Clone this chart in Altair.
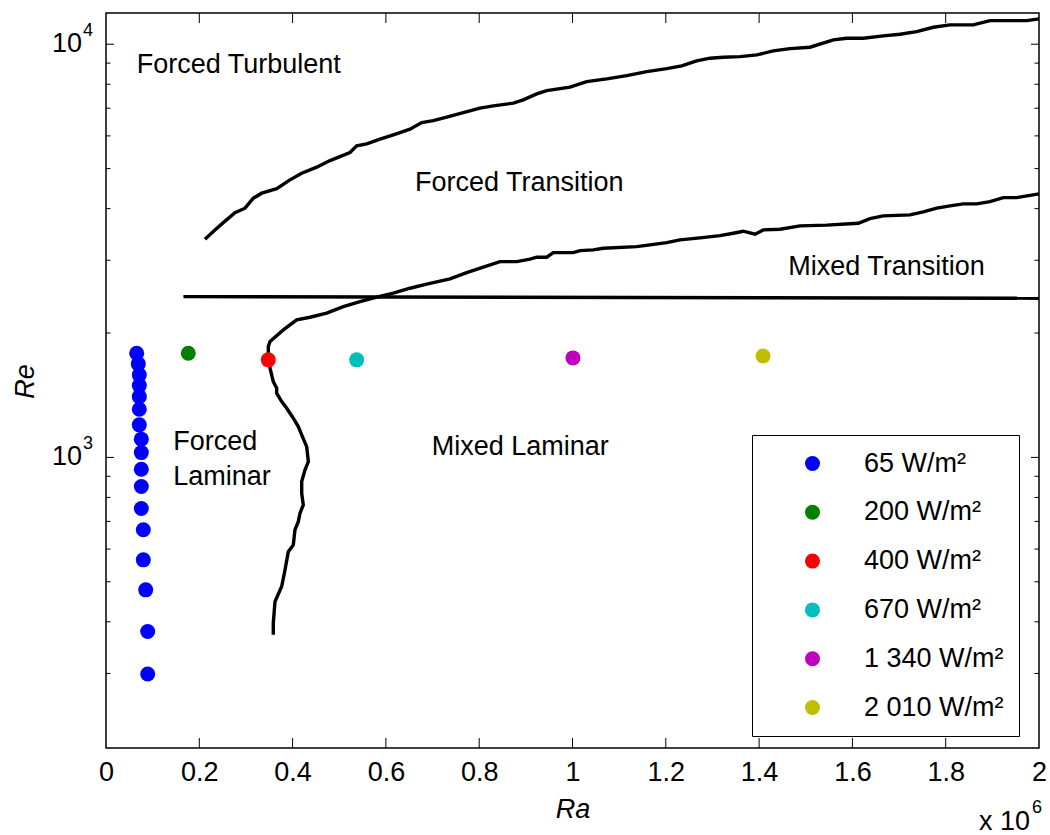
import altair as alt
import pandas as pd

FONT = "Liberation Sans"
W, H = 933, 735

# Ra is given in units of 10^6
# 65 W/m2 series
low_flux_ra = [0.0658, 0.0692, 0.0714, 0.0714, 0.0714, 0.0714, 0.0714, 0.0757, 0.0757,
               0.0757, 0.0757, 0.0757, 0.0800, 0.0800, 0.0851, 0.0894, 0.0894]
low_flux_re = [1787, 1684, 1584, 1492, 1403, 1308, 1199, 1107, 1027,
               936, 850, 752, 668, 565, 478, 379, 299]

flux_labels = ["65 W/m²", "200 W/m²", "400 W/m²", "670 W/m²", "1 340 W/m²", "2 010 W/m²"]
flux_colors = ["#0000FF", "#008000", "#FF0000", "#00BFBF", "#BF00BF", "#BFBF00"]

# one point for each of the higher heat fluxes
high_flux_ra = [0.1764, 0.3479, 0.5374, 1.001, 1.4084]
high_flux_re = [1787, 1722, 1722, 1741, 1760]

# forced turbulent / forced transition boundary
turb_ra = [0.2122, 0.2300, 0.2514, 0.2765, 0.2980, 0.3158, 0.3338, 0.3659, 0.3944, 0.4195,
           0.4517, 0.4802, 0.5230, 0.5374, 0.5588, 0.5874, 0.6159, 0.6517, 0.6767, 0.7016,
           0.7303, 0.7659, 0.8017, 0.8302, 0.8731, 0.8945, 0.9233, 0.9447, 0.9946, 1.0304,
           1.0733, 1.1162, 1.1591, 1.2019, 1.2341, 1.2662, 1.2948, 1.3233, 1.3591, 1.3949,
           1.4304, 1.4662, 1.5091, 1.5591, 1.5878, 1.6234, 1.6662, 1.7020, 1.7378, 1.7734,
           1.8092, 1.8592, 1.8950, 1.9235, 1.9736, 2.0]
turb_re = [3374, 3520, 3700, 3912, 4010, 4240, 4360, 4473, 4695, 4873,
           5039, 5228, 5467, 5675, 5739, 5891, 6034, 6229, 6462, 6534,
           6659, 6833, 7002, 7092, 7199, 7333, 7582, 7723, 7870, 8120,
           8241, 8395, 8584, 8730, 8862, 9112, 9251, 9302, 9333, 9422,
           9634, 9759, 9834, 10242, 10340, 10340, 10474, 10573, 10727, 10992,
           11135, 11135, 11405, 11405, 11405, 11514]

# forced laminar / mixed boundary, continuing into the mixed transition boundary
mixed_ra = [0.3586, 0.3586, 0.3623, 0.3766, 0.3837, 0.3908, 0.4015, 0.4051, 0.4122, 0.4159,
            0.4229, 0.4195, 0.4195, 0.4266, 0.4337, 0.4302, 0.4195, 0.4122, 0.4015, 0.3874,
            0.3766, 0.3659, 0.3659, 0.3586, 0.3516, 0.3479, 0.3479, 0.3516, 0.3801, 0.4088,
            0.4373, 0.4731, 0.5087, 0.5445, 0.5803, 0.6159, 0.6517, 0.6875, 0.7374, 0.7732,
            0.8088, 0.8446, 0.8804, 0.9089, 0.9233, 0.9447, 0.9588, 1.0017, 1.0161, 1.0446,
            1.0660, 1.1376, 1.1661, 1.2019, 1.2304, 1.2733, 1.3162, 1.3447, 1.3661, 1.3912,
            1.4090, 1.4448, 1.4877, 1.5449, 1.6127, 1.6377, 1.6662, 1.7235, 1.7520, 1.7807,
            1.8092, 1.8377, 1.8665, 1.8950, 1.9235, 1.9522, 2.0]
mixed_re = [372, 397, 448, 487, 534, 591, 614, 668, 699, 733,
            767, 819, 874, 933, 977, 1062, 1134, 1187, 1244, 1315,
            1365, 1430, 1471, 1526, 1644, 1738, 1854, 1907, 2035, 2151,
            2184, 2234, 2317, 2383, 2442, 2497, 2567, 2625, 2704, 2800,
            2886, 2978, 2978, 3018, 3051, 3051, 3130, 3130, 3166, 3178,
            3208, 3237, 3268, 3310, 3360, 3398, 3442, 3488, 3527, 3469,
            3553, 3567, 3633, 3648, 3688, 3784, 3842, 3863, 3928, 4010,
            4062, 4107, 4107, 4160, 4253, 4253, 4342]

# mixed laminar / mixed transition limit
limit_ra = [0.166, 2.0]
limit_re = [2450, 2428]

# flow regime names
zone_text = ["Forced Turbulent", "Forced Transition", "Mixed Transition",
             "Forced", "Laminar", "Mixed Laminar"]
zone_ra = [0.0658, 0.6624, 1.4626, 0.1443, 0.1443, 0.6982]
zone_re = [8538, 4423, 2765, 1043, 858, 1014]

x_tick_values = [0, 0.2, 0.4, 0.6, 0.8, 1, 1.2, 1.4, 1.6, 1.8, 2]
y_major = [1000, 10000]
y_major_exp = ["3", "4"]
y_minor = [300, 400, 500, 600, 700, 800, 900, 2000, 3000, 4000, 5000, 6000, 7000, 8000, 9000]

x_scale = alt.Scale(domain=[0, 2], nice=False, zero=False)
y_scale = alt.Scale(type="log", domain=[198, 11900], nice=False)

points = pd.DataFrame({
    "ra": low_flux_ra + high_flux_ra,
    "re": low_flux_re + high_flux_re,
    "flux": [flux_labels[0]] * len(low_flux_ra) + flux_labels[1:],
})

x_axis = alt.Axis(
    values=x_tick_values, format="~g", labelFlush=False, labelOverlap=False,
    ticks=False, tickSize=0, domain=False, grid=False,
    labelFont=FONT, labelFontSize=27, labelColor="black",
    labelBaseline="alphabetic", labelPadding=32,
    title="Ra", titleFont=FONT, titleFontSize=27, titleFontStyle="italic",
    titleFontWeight="normal", titleColor="black", titleX=W / 2, titleY=69,
    titleAlign="center", titleBaseline="alphabetic",
)
y_axis = alt.Axis(
    labels=False, ticks=False, tickSize=0, domain=False, grid=False,
    title="Re", titleFont=FONT, titleFontSize=27, titleFontStyle="italic",
    titleFontWeight="normal", titleColor="black", titleX=-73, titleY=368,
    titleAngle=270, titleAlign="center", titleBaseline="alphabetic",
)

legend = alt.Legend(
    orient="none", legendX=646, legendY=422, direction="vertical", title=None,
    strokeColor="black", fillColor="white", padding=15,
    symbolType="circle", symbolSize=225, symbolStrokeWidth=0, symbolOpacity=1,
    symbolOffset=32, labelOffset=38, rowPadding=20.8,
    labelFont=FONT, labelFontSize=27, labelColor="black", labelLimit=400,
)


def xq(field="ra"):
    return alt.X(f"{field}:Q", scale=x_scale, axis=x_axis)


def yq(field="re"):
    return alt.Y(f"{field}:Q", scale=y_scale, axis=y_axis)


layers = []

# inward tick marks on all four sides
xt = pd.DataFrame({"t": x_tick_values[1:-1]})
layers.append(alt.Chart(xt).mark_rule(color="black", strokeWidth=1).encode(
    x=xq("t"), y=alt.value(H), y2=alt.value(H - 10)))
layers.append(alt.Chart(xt).mark_rule(color="black", strokeWidth=1).encode(
    x=xq("t"), y=alt.value(0), y2=alt.value(10)))
for vals, length in ((y_major, 8), (y_minor, 4.5)):
    yt = pd.DataFrame({"t": vals})
    layers.append(alt.Chart(yt).mark_rule(color="black", strokeWidth=1).encode(
        y=yq("t"), x=alt.value(0), x2=alt.value(length)))
    layers.append(alt.Chart(yt).mark_rule(color="black", strokeWidth=1).encode(
        y=yq("t"), x=alt.value(W), x2=alt.value(W - length)))

# regime boundaries
for ra_vals, re_vals in ((turb_ra, turb_re), (mixed_ra, mixed_re), (limit_ra, limit_re)):
    df = pd.DataFrame({"ra": ra_vals, "re": re_vals, "i": range(len(ra_vals))})
    layers.append(alt.Chart(df).mark_line(color="black", strokeWidth=3.4).encode(
        x=xq(), y=yq(), order="i:Q"))

# regime names
zones = pd.DataFrame({"ra": zone_ra, "re": zone_re, "label": zone_text})
layers.append(alt.Chart(zones).mark_text(
    align="left", baseline="alphabetic", font=FONT, fontSize=27, color="black"
).encode(x=xq(), y=yq(), text="label:N"))

# log axis labels 10^3 and 10^4
ylab = pd.DataFrame({"re": y_major, "exp": y_major_exp})
layers.append(alt.Chart(ylab).mark_text(
    align="right", baseline="alphabetic", dy=8, font=FONT, fontSize=27, color="black"
).encode(x=alt.value(-24), y=yq(), text=alt.value("10")))
layers.append(alt.Chart(ylab).mark_text(
    align="left", baseline="alphabetic", dy=-8, font=FONT, fontSize=18, color="black"
).encode(x=alt.value(-23), y=yq(), text="exp:N"))

# x-axis multiplier
mult = pd.DataFrame({"base": ["x 10"], "exp": ["6"]})
layers.append(alt.Chart(mult).mark_text(
    align="right", baseline="alphabetic", font=FONT, fontSize=27, color="black"
).encode(x=alt.value(W - 9), y=alt.value(H + 82), text="base:N"))
layers.append(alt.Chart(mult).mark_text(
    align="left", baseline="alphabetic", font=FONT, fontSize=18, color="black"
).encode(x=alt.value(W - 7), y=alt.value(H + 65), text="exp:N"))

# measured points
layers.append(alt.Chart(points).mark_circle(size=225, opacity=1).encode(
    x=xq(), y=yq(),
    color=alt.Color("flux:N", scale=alt.Scale(domain=flux_labels, range=flux_colors),
                    legend=legend),
))

chart = alt.layer(*layers).properties(
    width=W, height=H,
    autosize=alt.AutoSizeParams(type="none"),
    padding={"left": 106, "top": 13, "right": 11, "bottom": 87},
    background="white",
).configure_view(stroke="black", strokeWidth=1.5)

chart.save("out.html", embed_options={"renderer": "svg", "actions": False})
